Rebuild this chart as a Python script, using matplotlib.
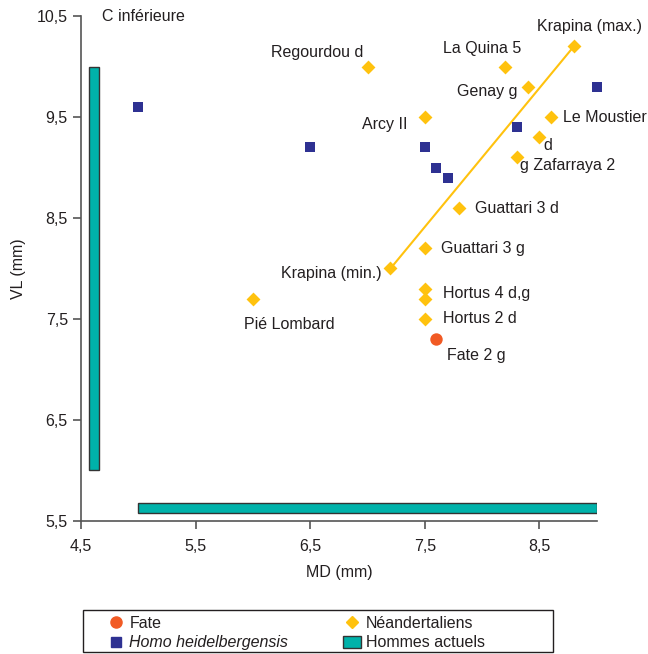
import matplotlib
matplotlib.use("Agg")
import matplotlib.pyplot as plt
from matplotlib.lines import Line2D
from matplotlib.patches import Patch, Rectangle

plt.rcParams['font.family'] = ['Liberation Sans', 'DejaVu Sans']

# Data
heid_md = [5.0, 6.5, 7.5, 7.6, 7.7, 8.3, 9.0]
heid_vl = [9.6, 9.2, 9.2, 9.0, 8.9, 9.4, 9.8]

nean_names = ["Regourdou d", "La Quina 5", "Krapina (max.)", "Genay g", "Arcy II",
              "Le Moustier", "d", "g Zafarraya 2", "Guattari 3 d", "Guattari 3 g",
              "Krapina (min.)", "Hortus 4 d,g", "", "Hortus 2 d", "Pié Lombard"]
nean_md = [7.0, 8.2, 8.8, 8.4, 7.5, 8.6, 8.5, 8.3, 7.8, 7.5, 7.2, 7.5, 7.5, 7.5, 6.0]
nean_vl = [10.0, 10.0, 10.2, 9.8, 9.5, 9.5, 9.3, 9.1, 8.6, 8.2, 8.0, 7.8, 7.7, 7.5, 7.7]

fate_name = ["Fate 2 g"]
fate_md = [7.6]
fate_vl = [7.3]

krapina_line_md = [7.2, 8.8]
krapina_line_vl = [8.0, 10.2]

modern_md_range = [5.0, 9.0]
modern_vl_range = [6.0, 10.0]

xticks = [4.5, 5.5, 6.5, 7.5, 8.5]
yticks = [5.5, 6.5, 7.5, 8.5, 9.5, 10.5]

# label placement (pixel offsets, ha)
label_offsets = [(-4, 14, 'right'), (-23, 18, 'center'), (16, 20, 'center'), (-11, -5, 'right'),
                 (-17, -7, 'right'), (12, 0, 'left'), (4, -8, 'left'), (3, -8, 'left'),
                 (16, -1, 'left'), (16, 0, 'left'), (-9, -5, 'right'), (18, -5, 'left'),
                 (0, 0, 'left'), (18, 0, 'left'), (36, -26, 'center')]

teal = '#00B2AA'
gold = '#FFC20E'
navy = '#2E3192'
orange = '#F15A24'
txt = '#231F20'
axcol = '#555555'
FS = 11.5

fig = plt.figure(figsize=(6.48, 6.54), dpi=100)
ax = fig.add_axes([0.125, 0.2034, 0.796, 0.7721])

ax.bar(4.615, modern_vl_range[1] - modern_vl_range[0], bottom=modern_vl_range[0], width=0.09,
       color=teal, edgecolor='#333333', linewidth=1.0, zorder=2)
ax.barh(5.63, modern_md_range[1] - modern_md_range[0], left=modern_md_range[0], height=0.1,
        color=teal, edgecolor='#333333', linewidth=1.0, zorder=2)

ax.plot(krapina_line_md, krapina_line_vl, color=gold, lw=1.5, zorder=3)
ax.scatter(heid_md, heid_vl, marker='s', s=55, color=navy, zorder=4, linewidths=0, clip_on=False)
ax.scatter(nean_md, nean_vl, marker='D', s=50, color=gold, zorder=4, linewidths=0, clip_on=False)
ax.scatter(fate_md, fate_vl, marker='o', s=80, color=orange, zorder=4, linewidths=0, clip_on=False)

px2pt = 72 / 100
for name, x, y, (dx, dy, ha) in zip(nean_names, nean_md, nean_vl, label_offsets):
    if name:
        ax.annotate(name, (x, y), xytext=(dx * px2pt, dy * px2pt), textcoords='offset points',
                    ha=ha, va='center', fontsize=FS, color=txt)
ax.annotate(fate_name[0], (fate_md[0], fate_vl[0]), xytext=(11 * px2pt, -16 * px2pt),
            textcoords='offset points', ha='left', va='center', fontsize=FS, color=txt)

ax.text(4.683, 10.5, "C inférieure", ha='left', va='center', fontsize=FS, color=txt)

ax.set_xlim(4.5, 9.0)
ax.set_ylim(5.5, 10.5)
ax.set_xticks(xticks)
ax.set_yticks(yticks)
ax.set_xticklabels([f"{t:.1f}".replace('.', ',') for t in xticks])
ax.set_yticklabels([f"{t:.1f}".replace('.', ',') for t in yticks])
ax.tick_params(direction='out', length=6, width=1.2, color=axcol, labelcolor=txt, labelsize=FS)
ax.tick_params(axis='x', pad=7)
ax.tick_params(axis='y', pad=3.5)
for s in ['top', 'right']:
    ax.spines[s].set_visible(False)
for s in ['left', 'bottom']:
    ax.spines[s].set_color(axcol)
    ax.spines[s].set_linewidth(1.2)
ax.set_xlabel("MD (mm)", fontsize=FS, color=txt, labelpad=8)
ax.set_ylabel("VL (mm)", fontsize=FS, color=txt, labelpad=8)

handles = [
    Line2D([], [], marker='o', ls='', color=orange, markersize=8),
    Line2D([], [], marker='s', ls='', color=navy, markersize=7),
    Line2D([], [], marker='D', ls='', color=gold, markersize=6),
    Patch(facecolor=teal, edgecolor='#333333'),
]
labels = ["Fate", "Homo heidelbergensis", "Néandertaliens", "Hommes actuels"]
leg = fig.legend(handles, labels, ncol=2, loc='upper left',
                 bbox_to_anchor=(107 / 648, 1 - 616 / 654),
                 fontsize=FS, frameon=False,
                 handlelength=1.1, handleheight=0.8, handletextpad=0.3, borderpad=0,
                 labelspacing=0.28, columnspacing=3.45, borderaxespad=0)
for t in leg.get_texts():
    t.set_color(txt)
leg.get_texts()[1].set_style('italic')
fig.add_artist(Rectangle((83 / 648, 2 / 654), 470 / 648, 42 / 654, transform=fig.transFigure,
                         fill=False, edgecolor=txt, linewidth=1.0))

fig.savefig("out.png", dpi=100)
